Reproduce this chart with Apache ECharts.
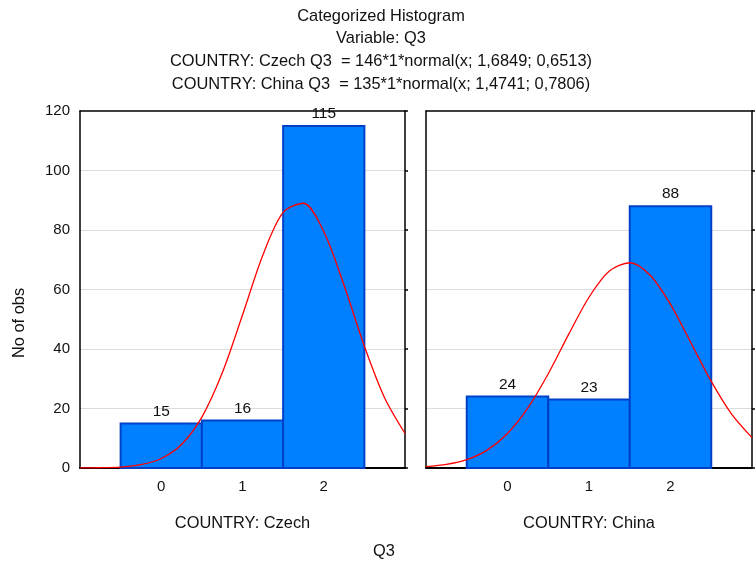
<!DOCTYPE html>
<html>
<head>
<meta charset="utf-8">
<script src="https://cdn.jsdelivr.net/npm/echarts@6/dist/echarts.min.js"></script>
<style>
  html, body { margin: 0; padding: 0; background: #fff; }
  #chart { width: 756px; height: 565px; }
</style>
</head>
<body>
<div id="chart"></div>
<script>
// Histogram classes (Q3 answer values) and observed counts per country
const categories = [0, 1, 2];
const czechCounts = [15, 16, 115];
const chinaCounts = [24, 23, 88];

// Fitted normal curves, sampled along the Q3 axis
const curveX = [-1, -0.75, -0.5, -0.25, 0, 0.25, 0.5, 0.75, 1, 1.25, 1.5, 1.75, 2, 2.25, 2.5, 2.75, 3];
const czechCurve = [0.02, 0.08, 0.32, 1.1, 3.2, 7.9, 17.1, 31.9, 51.4, 71.5, 85.9, 89.0, 79.5, 61.4, 40.9, 23.5, 11.6];
const chinaCurve = [0.45, 1.2, 2.8, 6.0, 11.6, 20.2, 31.7, 44.9, 57.4, 66.2, 69.0, 64.8, 55.0, 42.1, 29.1, 18.1, 10.2];

// Axis settings
const yTicks = { min: 0, max: 120, interval: 20 };
const xRange = { min: -1, max: 3 };

const titleLines = [
  'Categorized Histogram',
  'Variable: Q3',
  'COUNTRY: Czech Q3  = 146*1*normal(x; 1,6849; 0,6513)',
  'COUNTRY: China Q3  = 135*1*normal(x; 1,4741; 0,7806)'
];
const panelNames = ['COUNTRY: Czech', 'COUNTRY: China'];
const xTitle = 'Q3';
const yTitle = 'No of obs';

const FONT = '"Liberation Sans", Arial, sans-serif';
const TEXT = '#111';
const BIG = 16.4;

const chart = echarts.init(document.getElementById('chart'), null, { renderer: 'canvas' });

function pairs(xs, ys) { return xs.map((x, i) => [x, ys[i]]); }

function renderBar(params, api) {
  const x = api.value(0);
  const v = api.value(1);
  const p0 = api.coord([x - 0.5, v]);
  const p1 = api.coord([x + 0.5, 0]);
  return {
    type: 'rect',
    shape: { x: p0[0], y: p0[1], width: p1[0] - p0[0], height: p1[1] - p0[1] },
    style: { fill: '#0080FF', stroke: '#0040C8', lineWidth: 2 },
    textContent: {
      style: { text: String(v), fill: TEXT, fontSize: 15.5, fontFamily: FONT }
    },
    textConfig: { position: 'top', distance: 3 }
  };
}

const grids = [
  { left: 80, top: 111, width: 325, height: 357 },
  { left: 426, top: 111, width: 326, height: 357 }
];

const xAxes = [];
const yAxes = [];
grids.forEach((g, i) => {
  // bottom axis with class ticks
  xAxes.push({
    type: 'value', gridIndex: i, position: 'bottom', min: xRange.min, max: xRange.max,
    axisLine: { show: true, onZero: false, lineStyle: { color: '#000', width: 2 } },
    axisTick: { show: true, inside: true, length: 4, customValues: categories, lineStyle: { color: '#000', width: 1.5 } },
    axisLabel: { show: true, customValues: categories, margin: 11, fontSize: 15, color: TEXT, fontFamily: FONT },
    splitLine: { show: false },
    name: panelNames[i], nameLocation: 'middle', nameGap: 47,
    nameTextStyle: { fontSize: BIG, color: TEXT, fontFamily: FONT }
  });
  // top frame edge
  xAxes.push({
    type: 'value', gridIndex: i, position: 'top', min: xRange.min, max: xRange.max,
    axisLine: { show: true, onZero: false, lineStyle: { color: '#000', width: 1.5 } },
    axisTick: { show: false }, axisLabel: { show: false }, splitLine: { show: false }
  });
  // left value axis
  yAxes.push({
    type: 'value', gridIndex: i, position: 'left',
    min: yTicks.min, max: yTicks.max, interval: yTicks.interval,
    axisLine: { show: true, onZero: false, lineStyle: { color: '#000', width: 1.5 } },
    axisTick: { show: false },
    axisLabel: { show: i === 0, margin: 10, fontSize: 15, color: TEXT, fontFamily: FONT },
    splitLine: { show: true, showMinLine: false, showMaxLine: false, lineStyle: { color: '#dcdcdc', width: 1 } }
  });
  // right frame edge with outward ticks
  yAxes.push({
    type: 'value', gridIndex: i, position: 'right',
    min: yTicks.min, max: yTicks.max, interval: yTicks.interval,
    axisLine: { show: true, onZero: false, lineStyle: { color: '#000', width: 1.5 } },
    axisTick: { show: true, length: 3, lineStyle: { color: '#000', width: 1.5 } },
    axisLabel: { show: false }, splitLine: { show: false }
  });
});

const series = [
  {
    type: 'custom', xAxisIndex: 0, yAxisIndex: 0,
    data: pairs(categories, czechCounts), renderItem: renderBar, clip: false
  },
  {
    type: 'custom', xAxisIndex: 2, yAxisIndex: 2,
    data: pairs(categories, chinaCounts), renderItem: renderBar, clip: false
  },
  {
    type: 'line', xAxisIndex: 0, yAxisIndex: 0, data: pairs(curveX, czechCurve),
    smooth: 0.3, showSymbol: false, lineStyle: { color: '#ff0000', width: 1.3 }, z: 5, silent: true
  },
  {
    type: 'line', xAxisIndex: 2, yAxisIndex: 2, data: pairs(curveX, chinaCurve),
    smooth: 0.3, showSymbol: false, lineStyle: { color: '#ff0000', width: 1.3 }, z: 5, silent: true
  }
];

const titleY = [16, 38, 61, 84];
const graphic = titleLines.map((t, i) => ({
  type: 'text', x: 381, y: titleY[i],
  style: { text: t, fontSize: BIG, fontFamily: FONT, fill: TEXT, align: 'center', verticalAlign: 'middle' }
}));
graphic.push({
  type: 'text', x: 384, y: 551,
  style: { text: xTitle, fontSize: BIG, fontFamily: FONT, fill: TEXT, align: 'center', verticalAlign: 'middle' }
});
graphic.push({
  type: 'text', x: 19, y: 323, rotation: Math.PI / 2,
  style: { text: yTitle, fontSize: BIG, fontFamily: FONT, fill: TEXT, align: 'center', verticalAlign: 'middle' }
});

chart.setOption({
  animation: false,
  backgroundColor: '#fff',
  grid: grids,
  xAxis: xAxes,
  yAxis: yAxes,
  series: series,
  graphic: graphic
});
</script>
</body>
</html>
